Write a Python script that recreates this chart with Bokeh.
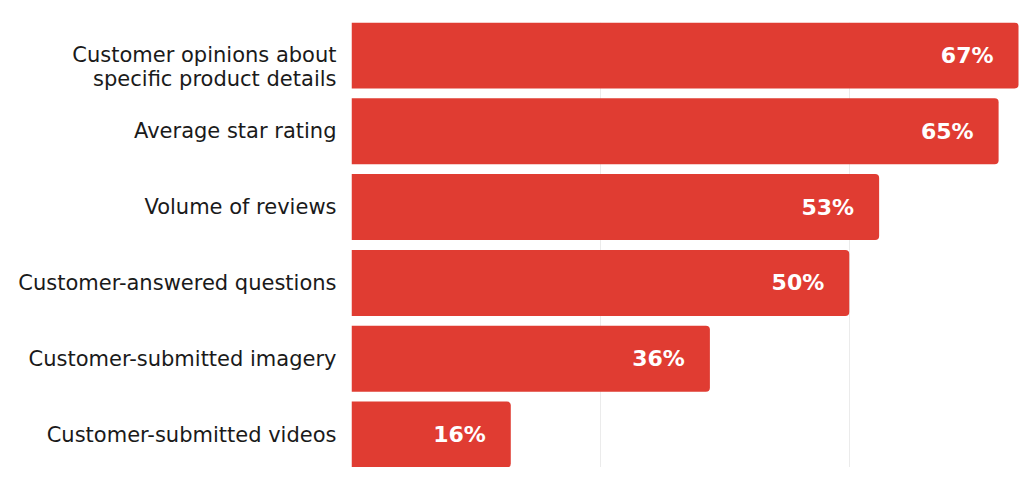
from bokeh.plotting import figure
from bokeh.models import ColumnDataSource, FactorRange, Range1d, FixedTicker
from bokeh.core.properties import value
from bokeh.embed import file_html
from bokeh.resources import INLINE

categories = [
    "\nCustomer opinions about\nspecific product details",
    "Average star rating",
    "Volume of reviews",
    "Customer-answered questions",
    "Customer-submitted imagery",
    "Customer-submitted videos",
]
values = [67, 65, 53, 50, 36, 16]
labels = [f"{v}%" for v in values]

BAR = "#E03C32"
FONT = "DejaVu Sans"

src = ColumnDataSource(dict(cat=categories, val=values, lab=labels))

p = figure(
    width=1020, height=467,
    y_range=FactorRange(*reversed(categories), range_padding=-0.065,
                        range_padding_units="absolute"),
    x_range=Range1d(0, 67.2),
    output_backend="svg", toolbar_location=None,
    min_border_left=351, min_border_right=0,
    min_border_top=22, min_border_bottom=0,
)
p.outline_line_color = None
p.background_fill_color = "white"
p.border_fill_color = "white"

p.hbar(y="cat", right="val", left=0, height=0.87, source=src,
       fill_color=BAR, line_color=None, border_radius=(0, 4, 4, 0))

p.text(x="val", y="cat", text="lab", source=src, x_offset=-25,
       text_align="right", text_baseline="middle", text_color="white",
       text_font=value(FONT), text_font_style="bold", text_font_size="22px")

p.xaxis.visible = False
p.xgrid.ticker = FixedTicker(ticks=[25, 50])
p.xgrid.grid_line_color = "#ebebeb"
p.ygrid.grid_line_color = None

ya = p.yaxis[0]
ya.axis_line_color = None
ya.major_tick_line_color = None
ya.minor_tick_line_color = None
ya.major_label_standoff = 9
ya.major_label_text_font = FONT
ya.major_label_text_font_size = "21px"
ya.major_label_text_color = "#1a1a1a"
ya.major_label_text_line_height = 1.0

open("out.html", "w").write(file_html(p, INLINE))
